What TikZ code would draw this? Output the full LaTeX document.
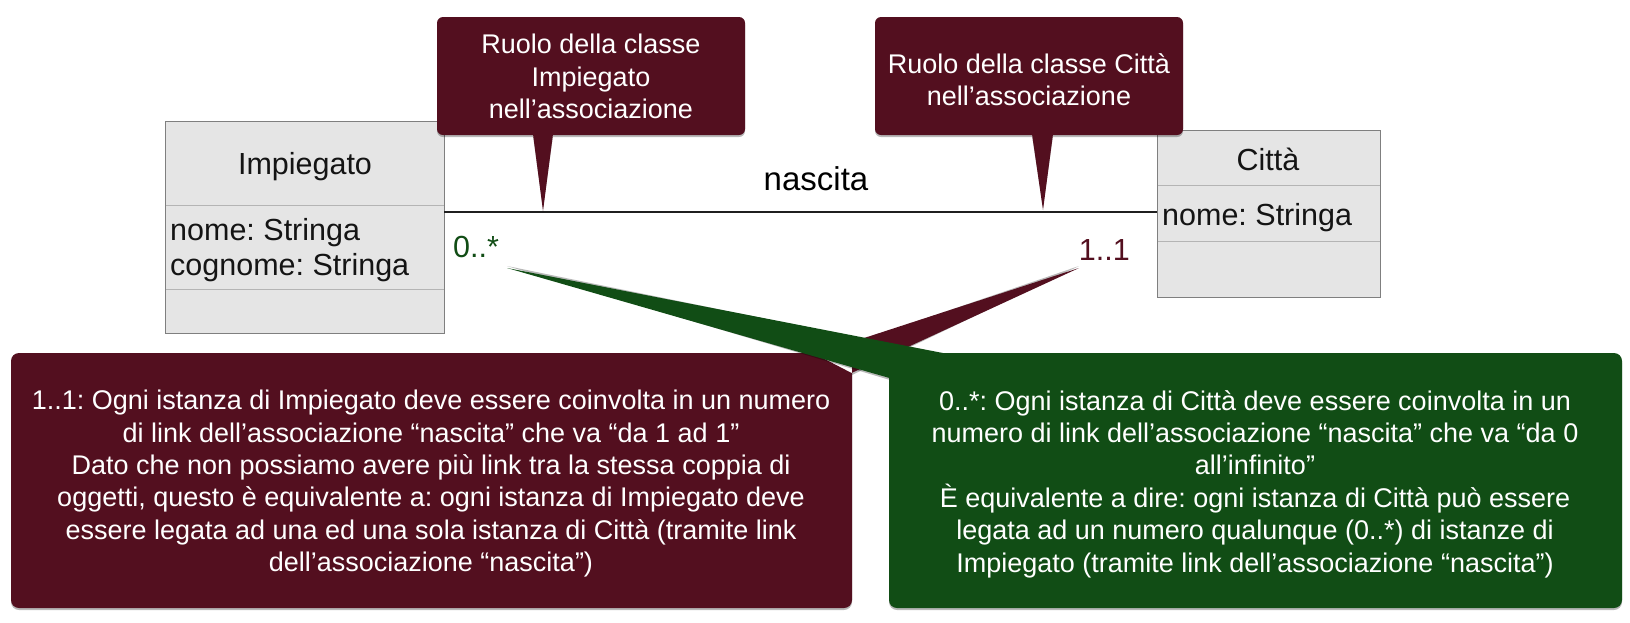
\documentclass[tikz,border=0pt]{standalone}
\usepackage{fontspec}
\setmainfont{Liberation Sans}
\frenchspacing
\definecolor{dred}{HTML}{530F1F}
\definecolor{dgreen}{HTML}{114D15}
\definecolor{clsfill}{HTML}{E5E5E5}
\definecolor{clsline}{HTML}{7F7F7F}
\definecolor{clssep}{HTML}{B4B4B4}
\begin{document}
\begin{tikzpicture}[x=1pt,y=-1pt,
  classbox/.style={fill=clsfill, draw=clsline, line width=1pt, inner sep=0pt, outer sep=0pt, anchor=north west},
  sepline/.style={draw=clssep, line width=0.9pt},
  clstext/.style={font=\fontsize{30.5}{36}\selectfont, text=black!92, inner sep=0pt},
  multtext/.style={font=\fontsize{30.5}{36}\selectfont, inner sep=0pt},
  bubtext/.style={font=\fontsize{27}{32.4}\selectfont, text=white, align=center, inner sep=0pt, anchor=north},
  shadowfill/.style={fill=black, opacity=0.28},
  assoc/.style={draw=black!88, line width=1.8pt}
]
\useasboundingbox (0,0) rectangle (1630,622);

% class boxes
\node[classbox, minimum width=279pt, minimum height=212pt] (imp) at (165,121) {};
\draw[sepline] (165.5,205) -- (443.5,205);
\draw[sepline] (165.5,289) -- (443.5,289);
\node[clstext, anchor=base] (impname) at (305,174) {Impiegato};
\node[clstext, anchor=base west] (impa1) at (170,240) {nome: Stringa};
\node[clstext, anchor=base west] (impa2) at (170,275) {cognome: Stringa};

\node[classbox, minimum width=223pt, minimum height=167pt] (cit) at (1157,130) {};
\draw[sepline] (1157.5,185) -- (1379.5,185);
\draw[sepline] (1157.5,241) -- (1379.5,241);
\node[clstext, anchor=base] (citname) at (1268,170) {Città};
\node[clstext, anchor=base west] (cita1) at (1162,225) {nome: Stringa};

% association
\coordinate (assocy) at (0,212);
\draw[assoc] (imp.east |- assocy) -- (cit.west |- assocy);
\node[font=\fontsize{33}{40}\selectfont, anchor=base, inner sep=0pt] (nasc) at (816,190) {nascita};
\node[multtext, text=dgreen, anchor=base west] (multA) at (453,257) {0..*};
\node[multtext, text=dred, anchor=base east] (multB) at (1130,260) {1..1};

% pointer tips
\coordinate (tip1) at (543,211);
\coordinate (tip2) at (1043,210);
\coordinate (tip3) at (1079,268);
\coordinate (tip4) at (507,268);

% top callout 1
\fill[shadowfill] (437,19) [rounded corners=6pt] rectangle (745,137) [sharp corners] (533,136) -- ([yshift=2pt]tip1) -- (553,136) -- cycle;
\fill[dred] (437,17) [rounded corners=6pt] rectangle (745,135) [sharp corners] (533,134) -- (tip1) -- (553,134) -- cycle;
\node[bubtext] (c1text) at (591,34) {Ruolo della classe\\Impiegato\\nell’associazione};

% top callout 2
\fill[shadowfill] (875,19) [rounded corners=6pt] rectangle (1183,137) [sharp corners] (1032,136) -- ([yshift=2pt]tip2) -- (1053,136) -- cycle;
\fill[dred] (875,17) [rounded corners=6pt] rectangle (1183,135) [sharp corners] (1032,134) -- (tip2) -- (1053,134) -- cycle;
\node[bubtext] (c2text) at (1029,53) {Ruolo della classe Città\\nell’associazione};

% bottom red callout
\fill[shadowfill] (11,355) [rounded corners=8pt] rectangle (852,610) [sharp corners] (815,356) -- ([yshift=2pt]tip3) -- (852,375) -- cycle;
\fill[dred] (11,353) [rounded corners=8pt] rectangle (852,608) [sharp corners] (815,354) -- (tip3) -- (851.5,373) -- cycle;

% bottom green callout
\fill[shadowfill] (889,355) [rounded corners=8pt] rectangle (1622,610) [sharp corners] (948,356) -- ([yshift=2pt]tip4) -- (890,380) -- cycle;
\fill[dgreen] (889,353) [rounded corners=8pt] rectangle (1622,608) [sharp corners] (948,354) -- (tip4) -- (889.5,378) -- cycle;

\node[bubtext] (rtext) at (431,390) {1..1: Ogni istanza di Impiegato deve essere coinvolta in un numero\\di link dell’associazione “nascita” che va “da 1 ad 1”\\Dato che non possiamo avere più link tra la stessa coppia di\\oggetti, questo è equivalente a: ogni istanza di Impiegato deve\\essere legata ad una ed una sola istanza di Città (tramite link\\dell’associazione “nascita”)};
\node[bubtext] (gtext) at (1255,390) {0..*: Ogni istanza di Città deve essere coinvolta in un\\numero di link dell’associazione “nascita” che va “da 0\\all’infinito”\\È equivalente a dire: ogni istanza di Città può essere\\legata ad un numero qualunque (0..*) di istanze di\\Impiegato (tramite link dell’associazione “nascita”)};
\end{tikzpicture}
\end{document}
